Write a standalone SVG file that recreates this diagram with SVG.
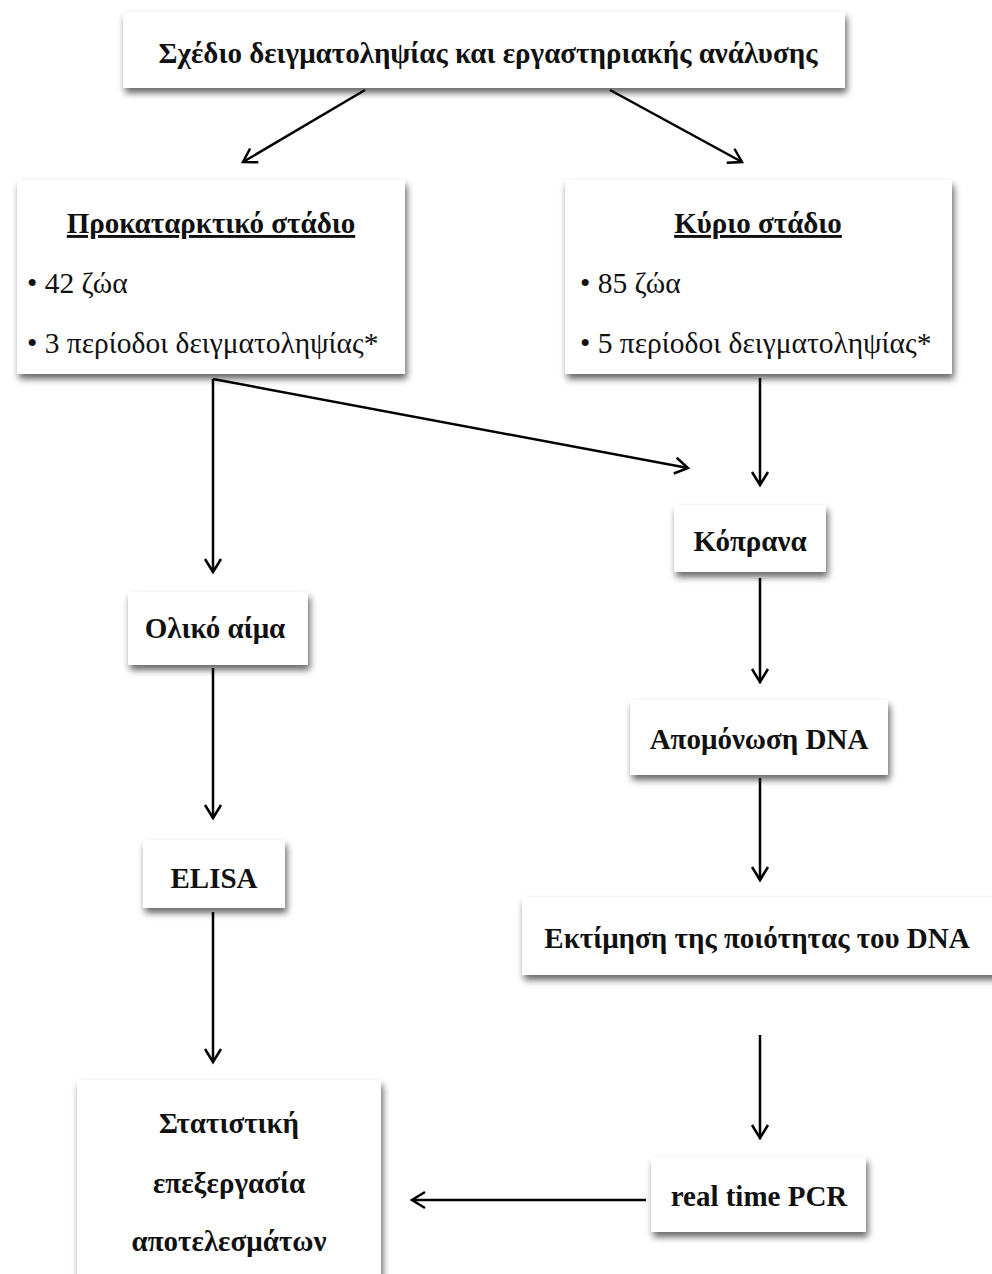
<svg xmlns="http://www.w3.org/2000/svg" width="992" height="1274" viewBox="0 0 992 1274">
<defs>
<filter id="sh" x="-10%" y="-20%" width="125%" height="150%">
<feDropShadow dx="2" dy="5" stdDeviation="3.5" flood-color="#000" flood-opacity="0.6"/>
</filter>
<marker id="ah" markerWidth="20" markerHeight="20" refX="16" refY="10" orient="auto" markerUnits="userSpaceOnUse">
<path d="M3,2 L16,10 L3,18" fill="none" stroke="#000" stroke-width="2.5"/>
</marker>
<style>
.box{fill:#fff;filter:url(#sh)}
.b{font-family:"Liberation Serif","Times New Roman",serif;font-weight:bold;font-size:29px;fill:#111;text-anchor:middle}
.r{font-family:"Liberation Serif","Times New Roman",serif;font-size:29.5px;fill:#111}
.c{stroke:#000;stroke-width:2.5;fill:none;marker-end:url(#ah)}
</style>
</defs>
<rect width="992" height="1274" fill="#fff"/>
<g id="connectors">
<line class="c" x1="365" y1="90" x2="243" y2="162"/>
<line class="c" x1="610" y1="90" x2="742" y2="162"/>
<line class="c" x1="213" y1="379" x2="213" y2="572"/>
<line class="c" x1="213" y1="379" x2="688" y2="468"/>
<line class="c" x1="760" y1="378" x2="760" y2="485"/>
<line class="c" x1="760" y1="578" x2="760" y2="682"/>
<line class="c" x1="760" y1="778" x2="760" y2="880"/>
<line class="c" x1="760" y1="1035" x2="760" y2="1138"/>
<line class="c" x1="213" y1="668" x2="213" y2="818"/>
<line class="c" x1="213" y1="912" x2="213" y2="1062"/>
<line class="c" x1="646" y1="1200" x2="412" y2="1200"/>
</g>
<g id="n-top">
<rect class="box" x="123" y="12" width="722" height="76"/>
<text class="b" x="488" y="63">Σχέδιο δειγματοληψίας και εργαστηριακής ανάλυσης</text>
</g>
<g id="n-prelim">
<rect class="box" x="17" y="180" width="388" height="194"/>
<text class="b" x="211" y="233" text-decoration="underline">Προκαταρκτικό στάδιο</text>
<text class="r" x="27" y="293">• 42 ζώα</text>
<text class="r" x="27" y="353">• 3 περίοδοι δειγματοληψίας*</text>
</g>
<g id="n-main">
<rect class="box" x="565" y="180" width="387" height="194"/>
<text class="b" x="758" y="233" text-decoration="underline">Κύριο στάδιο</text>
<text class="r" x="580" y="293">• 85 ζώα</text>
<text class="r" x="580" y="353">• 5 περίοδοι δειγματοληψίας*</text>
</g>
<g id="n-feces">
<rect class="box" x="674" y="505" width="152" height="67"/>
<text class="b" x="750" y="551">Κόπρανα</text>
</g>
<g id="n-dna">
<rect class="box" x="630" y="700" width="258" height="75"/>
<text class="b" x="759" y="749">Απομόνωση DNA</text>
</g>
<g id="n-quality">
<rect class="box" x="522" y="897" width="480" height="78"/>
<text class="b" x="757" y="948">Εκτίμηση της ποιότητας του DNA</text>
</g>
<g id="n-pcr">
<rect class="box" x="651" y="1157" width="215" height="75"/>
<text class="b" x="759" y="1206">real time PCR</text>
</g>
<g id="n-blood">
<rect class="box" x="128" y="592" width="180" height="73"/>
<text class="b" x="215" y="638">Ολικό αίμα</text>
</g>
<g id="n-elisa">
<rect class="box" x="143" y="840" width="142" height="68"/>
<text class="b" x="214" y="888">ELISA</text>
</g>
<g id="n-stats">
<rect class="box" x="77" y="1080" width="304" height="204"/>
<text class="b" x="229" y="1133">Στατιστική</text>
<text class="b" x="229" y="1193">επεξεργασία</text>
<text class="b" x="229" y="1251">αποτελεσμάτων</text>
</g>
</svg>
